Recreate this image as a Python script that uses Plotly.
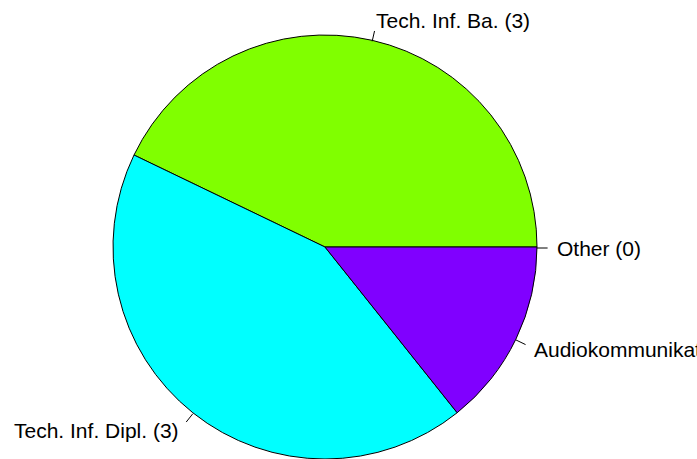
import math
import plotly.graph_objects as go

labels = ["Other", "Tech. Inf. Ba.", "Tech. Inf. Dipl.", "Audiokommunikation"]
counts = [0, 3, 3, 1]
colors = ["#FF0000", "#80FF00", "#00FFFF", "#8000FF"]

W, H = 697, 459
cx, cy = 325, 248        # pie centre in pixels (from top-left)
R = 212                  # pie radius in pixels

fig = go.Figure()
fig.add_trace(go.Pie(
    labels=labels, values=counts, sort=False,
    direction="counterclockwise", rotation=90,
    marker=dict(colors=colors, line=dict(color="black", width=1)),
    textinfo="none", hoverinfo="label+value", showlegend=False,
    domain=dict(x=[(cx - R) / W, (cx + R) / W], y=[0, (2 * R) / H]),
))

total = sum(counts)
cum = 0.0
shapes, annotations = [], []
for lab, v in zip(labels, counts):
    mid = 2 * math.pi * (cum + v / 2) / total
    cum += v
    c, s = math.cos(mid), math.sin(mid)
    x0, y0 = cx + R * c, cy - R * s
    x1, y1 = cx + 1.05 * R * c, cy - 1.05 * R * s
    tx, ty = cx + 1.1 * R * c - (3 if c > 0 else -1), cy - 1.1 * R * s
    shapes.append(dict(type="line", xref="paper", yref="paper",
                       x0=x0 / W, y0=1 - y0 / H, x1=x1 / W, y1=1 - y1 / H,
                       line=dict(color="black", width=1)))
    annotations.append(dict(xref="paper", yref="paper", x=tx / W, y=1 - ty / H,
                            text=f"{lab} ({v})", showarrow=False,
                            xanchor="left" if c > 0 else "right", yanchor="middle",
                            font=dict(family="Liberation Sans, Arial, sans-serif",
                                      size=21, color="black")))

fig.update_layout(width=W, height=H, margin=dict(l=0, r=0, t=0, b=0),
                  paper_bgcolor="white", plot_bgcolor="white",
                  shapes=shapes, annotations=annotations)
fig.write_html("out.html", config={"displayModeBar": False},
               post_script="document.body.style.margin='0';document.body.style.overflow='hidden';")
